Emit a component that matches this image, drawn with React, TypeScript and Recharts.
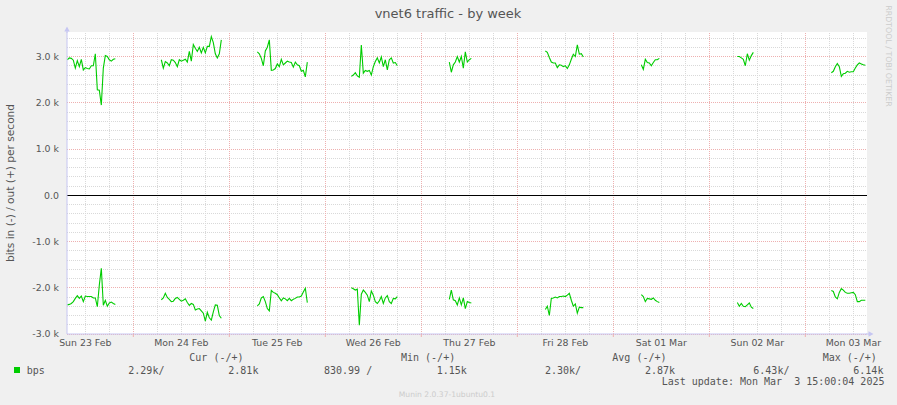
import React from 'react';
import { LineChart, Line, XAxis, YAxis, ReferenceLine, ReferenceArea } from 'recharts';

// ---- time axis (hours since Sun 23 Feb 00:00) ----
const STEP = 0.5;
const X_DOMAIN = [7.42, 207.42];
const dayLabels = ['Sun 23 Feb', 'Mon 24 Feb', 'Tue 25 Feb', 'Wed 26 Feb', 'Thu 27 Feb', 'Fri 28 Feb', 'Sat 01 Mar', 'Sun 02 Mar', 'Mon 03 Mar'];
const labelHours = [12, 36, 60, 84, 108, 132, 156, 180, 204];
const midnightHours = [24, 48, 72, 96, 120, 144, 168, 192];

// ---- value axis (k bits per second) ----
const Y_DOMAIN = [-3.0, 3.53];
const yMajor = [-3, -2, -1, 0, 1, 2, 3];
const yLabels = ['-3.0 k', '-2.0 k', '-1.0 k', '0.0', '1.0 k', '2.0 k', '3.0 k'];

// ---- series (out = +, in = -), 30 min samples ----
const outSun23 = [2.93, 2.97, 2.96, 2.92, 2.75, 2.91, 2.78, 2.94, 2.71, 2.76, 2.74, 2.73, 2.80, 2.80, 3.06, 2.28, 2.27, 1.95, 2.75, 3.02, 3.00, 2.93, 2.90, 2.94, 2.95];
const inSun23 = [-2.37, -2.36, -2.34, -2.30, -2.23, -2.17, -2.23, -2.18, -2.30, -2.18, -2.19, -2.19, -2.19, -2.22, -2.22, -2.41, -1.94, -1.58, -2.38, -2.27, -2.40, -2.33, -2.31, -2.34, -2.36];
const outMon24 = [2.93, 2.75, 2.89, 2.86, 2.80, 2.93, 2.92, 2.87, 2.78, 2.93, 2.90, 2.92, 2.94, 2.88, 3.11, 2.90, 3.26, 3.18, 3.11, 3.20, 3.08, 3.20, 3.08, 3.22, 3.22, 3.43, 3.30, 3.06, 2.97, 3.06, 3.36];
const inMon24 = [-2.26, -2.22, -2.12, -2.21, -2.25, -2.30, -2.29, -2.23, -2.21, -2.25, -2.29, -2.27, -2.24, -2.32, -2.38, -2.34, -2.36, -2.48, -2.46, -2.45, -2.50, -2.55, -2.72, -2.53, -2.65, -2.70, -2.52, -2.37, -2.38, -2.60, -2.66];
const outTue25 = [3.10, 3.06, 2.96, 2.80, 3.12, 3.20, 3.36, 2.70, 2.71, 2.74, 2.84, 2.78, 2.94, 2.82, 2.86, 2.90, 2.88, 2.87, 2.77, 2.88, 2.82, 2.80, 2.68, 2.70, 2.56, 2.88];
const inTue25 = [-2.39, -2.35, -2.22, -2.19, -2.30, -2.45, -2.50, -2.06, -2.10, -2.12, -2.15, -2.22, -2.28, -2.22, -2.24, -2.28, -2.23, -2.28, -2.25, -2.23, -2.20, -2.20, -2.18, -2.09, -2.01, -2.32];
const outWed26 = [2.57, 2.60, 2.65, 2.58, 2.55, 3.25, 2.64, 2.70, 2.68, 2.70, 2.60, 2.78, 2.89, 2.97, 2.86, 2.99, 2.78, 2.93, 2.71, 2.93, 2.97, 2.86, 2.87, 2.80];
const inWed26 = [-2.00, -2.02, -2.05, -2.03, -2.81, -2.14, -2.05, -2.10, -2.16, -2.30, -2.07, -2.16, -2.30, -2.34, -2.28, -2.19, -2.34, -2.22, -2.17, -2.30, -2.34, -2.23, -2.24, -2.19];
const outThu27 = [2.88, 2.66, 2.82, 2.88, 3.00, 2.88, 3.00, 2.75, 3.10, 2.88, 2.93, 2.96];
const inThu27 = [-2.25, -2.05, -2.26, -2.28, -2.37, -2.22, -2.37, -2.22, -2.45, -2.30, -2.32, -2.33];
const outFri28 = [3.12, 3.09, 2.98, 2.88, 2.86, 2.86, 2.76, 2.82, 2.81, 2.78, 2.80, 2.74, 2.82, 2.94, 3.05, 3.00, 3.25, 3.05, 3.06, 2.99];
const inFri28 = [-2.47, -2.40, -2.60, -2.23, -2.22, -2.20, -2.22, -2.19, -2.19, -2.18, -2.19, -2.16, -2.12, -2.27, -2.40, -2.35, -2.55, -2.42, -2.43, -2.43];
const outSat01 = [2.82, 2.72, 2.94, 2.87, 2.86, 2.80, 2.87, 2.93, 2.93, 2.96];
const inSat01 = [-2.15, -2.19, -2.30, -2.23, -2.24, -2.25, -2.22, -2.27, -2.30, -2.32];
const outSun02 = [3.00, 3.00, 2.97, 2.94, 2.80, 3.06, 2.92, 3.02, 3.09];
const inSun02 = [-2.32, -2.40, -2.34, -2.40, -2.41, -2.37, -2.33, -2.42, -2.45];
const outMon03 = [2.65, 2.68, 2.78, 2.85, 2.78, 2.57, 2.63, 2.64, 2.68, 2.66, 2.67, 2.67, 2.75, 2.82, 2.86, 2.84, 2.82, 2.81];
const inMon03 = [-2.06, -2.08, -2.20, -2.24, -2.10, -2.02, -2.05, -2.10, -2.12, -2.12, -2.11, -2.10, -2.15, -2.30, -2.30, -2.27, -2.27, -2.27];

const segmentStarts = [7.5, 31, 55, 78.5, 103, 127, 151, 175, 198.5];
const segments = [
  [outSun23, inSun23], [outMon24, inMon24], [outTue25, inTue25], [outWed26, inWed26],
  [outThu27, inThu27], [outFri28, inFri28], [outSat01, inSat01], [outSun02, inSun02], [outMon03, inMon03],
];

// ---- legend texts ----
const legendHeaders = ['Cur (-/+)', 'Min (-/+)', 'Avg (-/+)', 'Max (-/+)'];
const legendValues = ['2.29k/', '2.81k', '830.99 /', '1.15k', '2.30k/', '2.87k', '6.43k/', '6.14k'];
const seriesName = 'bps';
const lastUpdate = 'Last update: Mon Mar  3 15:00:04 2025';
const titleText = 'vnet6 traffic - by week';
const yAxisTitle = 'bits in (-) / out (+) per second';
const sideText = 'RRDTOOL / TOBI OETIKER';
const footerText = 'Munin 2.0.37-1ubuntu0.1';

// build table
const data: any[] = [];
segments.forEach(([o, i], s) => {
  o.forEach((v, k) => data.push({ t: segmentStarts[s] + k * STEP, out: v, inbound: i[k] }));
  data.push({ t: segmentStarts[s] + o.length * STEP, out: null, inbound: null });
});

const xTicks: number[] = [];
for (let h = 12; h <= 204; h += 6) xTicks.push(h);
const xMinor = xTicks.filter((h) => !midnightHours.includes(h));
const yMinor: number[] = [];
for (let k = -15; k <= 17; k++) {
  if (k % 5 !== 0) yMinor.push(Math.round(k * 0.2 * 10) / 10);
}

const GREEN = '#00cc00';
const MINOR = '#d9d9d9';
const MAJOR = '#eeb0b0';
const AXIS = '#c6c6f2';
const TEXT = '#555555';
const SANS = 'DejaVu Sans, sans-serif';
const MONO = 'DejaVu Sans Mono, monospace';

const XTick = (props: any) => {
  const { x, payload } = props;
  const v = payload.value;
  const idx = labelHours.indexOf(v);
  return (
    <g>
      {midnightHours.includes(v) && <line x1={x} x2={x} y1={334} y2={337} stroke={MAJOR} />}
      {idx >= 0 && (
        <text x={x} y={346} textAnchor="middle" fontSize={9.4} fontFamily={SANS} fill={TEXT}>
          {dayLabels[idx]}
        </text>
      )}
    </g>
  );
};

export default function App() {
  return (
    <div style={{ position: 'fixed', left: 0, top: 0, width: 897, height: 405, background: '#f0f0f0', overflow: 'hidden' }}>
      <LineChart width={897} height={405} data={data} margin={{ top: 32, right: 30, bottom: 0, left: 0 }}>
        <XAxis
          dataKey="t"
          type="number"
          domain={X_DOMAIN}
          allowDataOverflow
          ticks={xTicks}
          interval={0}
          tick={<XTick />}
          tickLine={false}
          axisLine={{ stroke: AXIS }}
          height={71}
        />
        <YAxis
          type="number"
          domain={Y_DOMAIN}
          allowDataOverflow
          ticks={yMajor}
          interval={0}
          width={67}
          tickLine={false}
          axisLine={{ stroke: AXIS }}
          tickFormatter={(v: number) => yLabels[yMajor.indexOf(v)] ?? ''}
          tick={{ fontSize: 9.4, fontFamily: SANS, fill: TEXT }}
        />
        <ReferenceArea x1={X_DOMAIN[0]} x2={X_DOMAIN[1]} y1={Y_DOMAIN[0]} y2={Y_DOMAIN[1]} fill="#ffffff" fillOpacity={1} stroke="none" />
        {yMinor.map((v) => (
          <ReferenceLine key={'ym' + v} y={v} stroke={MINOR} strokeDasharray="1 1" shapeRendering="crispEdges" />
        ))}
        {xMinor.map((v) => (
          <ReferenceLine key={'xm' + v} x={v} stroke={MINOR} strokeDasharray="1 1" shapeRendering="crispEdges" />
        ))}
        {yMajor.filter((v) => v !== 0).map((v) => (
          <ReferenceLine key={'yM' + v} y={v} stroke={MAJOR} strokeDasharray="1 1" shapeRendering="crispEdges" />
        ))}
        {midnightHours.map((v) => (
          <ReferenceLine key={'xM' + v} x={v} stroke={MAJOR} strokeDasharray="1 1" shapeRendering="crispEdges" />
        ))}
        <ReferenceLine y={0} stroke="#000000" strokeWidth={1} shapeRendering="crispEdges" />
        <Line dataKey="out" stroke={GREEN} strokeWidth={1.1} dot={false} isAnimationActive={false} connectNulls={false} />
        <Line dataKey="inbound" stroke={GREEN} strokeWidth={1.1} dot={false} isAnimationActive={false} connectNulls={false} />
      </LineChart>
      <svg width={897} height={405} style={{ position: 'absolute', left: 0, top: 0, pointerEvents: 'none' }}>
        <line x1={67} x2={67} y1={28} y2={33} stroke={AXIS} />
        <polygon points="64.3,31.5 69.7,31.5 67,26.5" fill={AXIS} />
        <line x1={866} x2={870} y1={334} y2={334} stroke={AXIS} />
        <polygon points="868.5,331.3 868.5,336.7 873.5,334" fill={AXIS} />
        <text x={448} y={18} textAnchor="middle" fontSize={13} fontFamily={SANS} fill={TEXT}>{titleText}</text>
        <text x={10} y={183} textAnchor="middle" dominantBaseline="central" transform="rotate(-90 10 183)" fontSize={10.6} fontFamily={SANS} fill={TEXT}>{yAxisTitle}</text>
        <text x={888} y={56} textAnchor="middle" dominantBaseline="central" transform="rotate(90 888 56)" fontSize={7.9} fontFamily={SANS} fill="#cccccc">{sideText}</text>
        <g fontFamily={MONO} fontSize={10} fill={TEXT} style={{ whiteSpace: 'pre' }}>
          <text x={189.3} y={361}>{legendHeaders[0]}</text>
          <text x={401} y={361}>{legendHeaders[1]}</text>
          <text x={612.3} y={361}>{legendHeaders[2]}</text>
          <text x={822.7} y={361}>{legendHeaders[3]}</text>
          <rect x={14} y={367} width={6} height={6} fill={GREEN} />
          <text x={26.7} y={373.5}>{seriesName}</text>
          <text x={128.3} y={373.5}>{legendValues[0]}</text>
          <text x={228.3} y={373.5}>{legendValues[1]}</text>
          <text x={324} y={373.5}>{legendValues[2]}</text>
          <text x={436.7} y={373.5}>{legendValues[3]}</text>
          <text x={545} y={373.5}>{legendValues[4]}</text>
          <text x={645} y={373.5}>{legendValues[5]}</text>
          <text x={753.3} y={373.5}>{legendValues[6]}</text>
          <text x={853.3} y={373.5}>{legendValues[7]}</text>
          <text x={661.7} y={385.2} xmlSpace="preserve">{lastUpdate}</text>
        </g>
        <text x={447} y={396.7} textAnchor="middle" fontSize={7.6} fontFamily={SANS} fill="#cccccc">{footerText}</text>
      </svg>
    </div>
  );
}
